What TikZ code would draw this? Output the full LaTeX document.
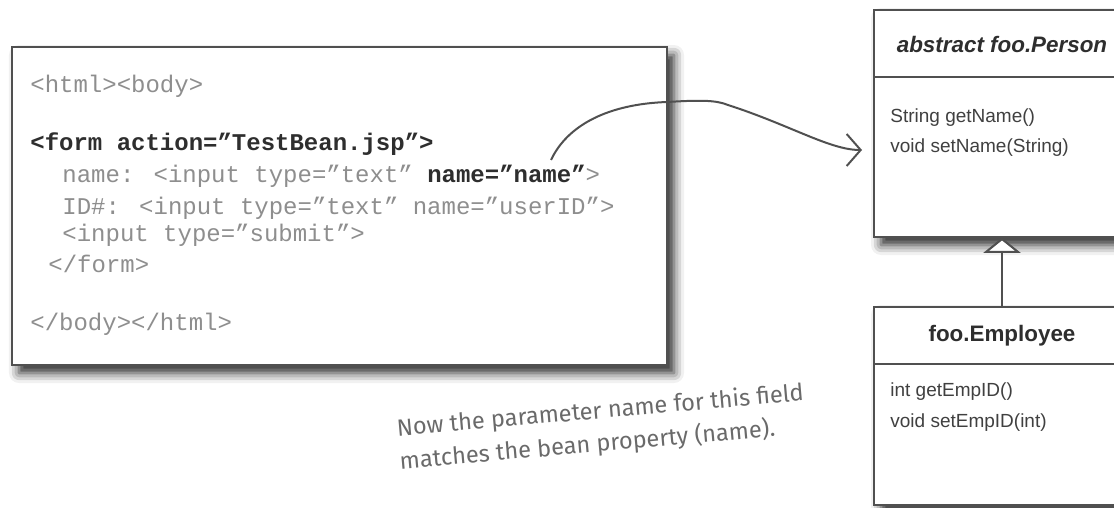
\documentclass[tikz,border=0pt]{standalone}
\usepackage{fontspec}
\usepackage{xcolor}
\setmainfont{Liberation Sans}
\newfontfamily\codefont{Liberation Mono}
\newfontfamily\notefont{Fira Sans}
\usetikzlibrary{arrows.meta,shadows.blur}

\definecolor{codegray}{HTML}{8E8E8E}
\definecolor{codeink}{HTML}{2E2E2E}
\definecolor{boxline}{HTML}{505050}
\definecolor{noteink}{HTML}{6A6A6A}
\newcommand{\codehl}[1]{\textbf{\color{codeink}#1}}

\tikzset{
  card/.style={draw=boxline, line width=0.8pt, fill=white, inner sep=0pt,
    blur shadow={shadow xshift=3.5pt, shadow yshift=-4pt, shadow blur radius=5pt, shadow opacity=85}},
  codeline/.style={anchor=base west, inner sep=0pt, text=codegray,
    font=\codefont\fontsize{12}{14}\selectfont},
  umltitle/.style={inner sep=0pt, text=codeink, font=\fontsize{11.2}{13}\selectfont\bfseries},
  abstracttitle/.style={umltitle, font=\fontsize{11.2}{13}\selectfont\bfseries\itshape},
  method/.style={anchor=west, inner sep=0pt, text=black!75, font=\fontsize{9.5}{11}\selectfont},
}

\begin{document}
\begin{tikzpicture}[x=0.5pt, y=-0.5pt]
    \useasboundingbox (0,0) rectangle (1114,508);
    \clip (0,0) rectangle (1114,508);

    % the form page
    \node[card, minimum width=327.5pt, minimum height=159pt] (form) at (339.5,206) {};
    \node[codeline] (html) at (30,93) {<html><body>};
    \node[codeline] (formtag) at (30,151) {\codehl{<form action=”TestBean.jsp”>}};
    \node[codeline] (namefield) at (62,183) {name: <input type=”text” \codehl{name=”name”}>};
    \node[codeline] (idfield) at (62,214) {ID\#: <input type=”text” name=”userID”>};
    \node[codeline] (submit) at (62,242) {<input type=”submit”>};
    \node[codeline] (formend) at (48,272) {</form>};
    \node[codeline] (htmlend) at (30,330) {</body></html>};

    % the bean classes
    \node[card, minimum width=128pt, minimum height=113.5pt] (person) at (1002,123.5) {};
    \draw[boxline, line width=0.8pt] ([yshift=-34pt]person.north west) -- ([yshift=-34pt]person.north east);
    \node[abstracttitle] (persontitle) at ([yshift=-17.5pt]person.north) {abstract foo.Person};
    \node[method] (getname) at (890,118) {String getName()};
    \node[method] (setname) at (890,148) {void setName(String)};

    \node[card, minimum width=128pt, minimum height=99pt] (employee) at (1002,406) {};
    \draw[boxline, line width=0.8pt] ([yshift=-29pt]employee.north west) -- ([yshift=-29pt]employee.north east);
    \node[umltitle] (employeetitle) at ([yshift=-15pt]employee.north) {foo.Employee};
    \node[method] (getid) at (890,392) {int getEmpID()};
    \node[method] (setid) at (890,423) {void setEmpID(int)};

    \draw[boxline, line width=1pt, -{Triangle[open, fill=white, length=7.5pt, width=18.5pt]}] (employee.north) -- (person.south);

    % from the field name to the bean
    \coordinate (hook) at (551,160);
    \coordinate (tip) at (862,150);
    \draw[boxline, line width=1pt, -{Straight Barb[length=7pt, width=16pt]}]
        (hook) .. controls (568,124) and (610,104) .. (667,102)
        .. controls (700,100) and (716,100) .. (728,105)
        .. controls (790,125) and (830,150) .. (tip);

    \node[rotate=5, anchor=west, inner sep=0pt, align=left, text=noteink,
        font=\notefont\fontsize{11.8}{16.5}\selectfont] (note) at (398,446)
        {Now the parameter name for this field\\matches the bean property (name).};
\end{tikzpicture}
\end{document}
